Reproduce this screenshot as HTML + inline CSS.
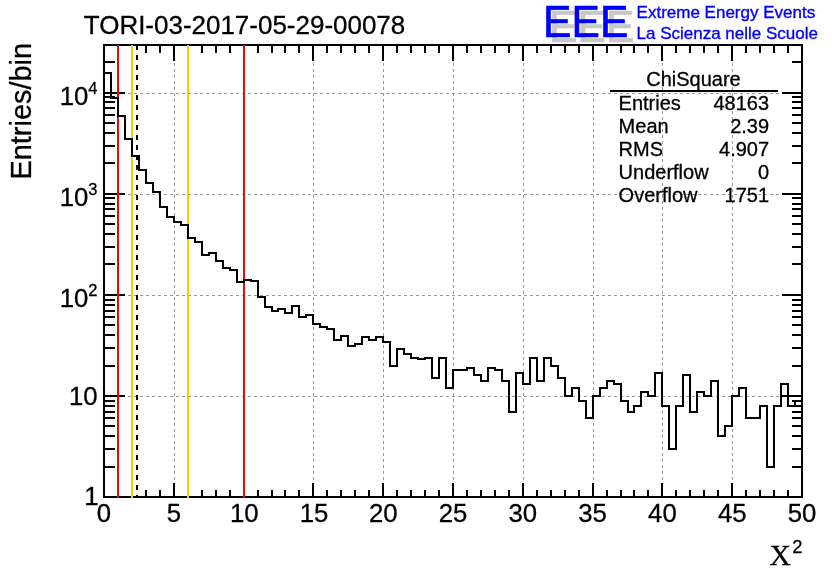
<!DOCTYPE html>
<html><head><meta charset="utf-8"><title>ChiSquare</title>
<style>html,body{margin:0;padding:0;background:#fff}svg{display:block;will-change:transform}text{font-family:"Liberation Sans",sans-serif;fill:#000;stroke:#000;stroke-width:.3}.ser{font-family:"Liberation Serif",serif}.b{fill:#00f}.s{stroke:#00f;stroke-width:.35}</style></head><body>
<svg width="836" height="572" viewBox="0 0 836 572">
<rect width="836" height="572" fill="#fff"/>
<path d="M174.5 45V497M244.5 45V497M313.5 45V497M383.5 45V497M453.5 45V497M523.5 45V497M593.5 45V497M662.5 45V497M732.5 45V497" stroke="#999" stroke-width="1" stroke-dasharray="3 3" fill="none" shape-rendering="crispEdges"/>
<path d="M104 396.5H802M104 295.5H802M104 194.5H802M104 93.5H802" stroke="#999" stroke-width="1" stroke-dasharray="3 3" fill="none" shape-rendering="crispEdges"/>
<path d="M104 497v-14M104 45v16M118 497v-7M118 45v8M132 497v-7M132 45v8M146 497v-7M146 45v8M160 497v-7M160 45v8M174 497v-14M174 45v16M188 497v-7M188 45v8M202 497v-7M202 45v8M216 497v-7M216 45v8M230 497v-7M230 45v8M244 497v-14M244 45v16M258 497v-7M258 45v8M272 497v-7M272 45v8M285 497v-7M285 45v8M299 497v-7M299 45v8M313 497v-14M313 45v16M327 497v-7M327 45v8M341 497v-7M341 45v8M355 497v-7M355 45v8M369 497v-7M369 45v8M383 497v-14M383 45v16M397 497v-7M397 45v8M411 497v-7M411 45v8M425 497v-7M425 45v8M439 497v-7M439 45v8M453 497v-14M453 45v16M467 497v-7M467 45v8M481 497v-7M481 45v8M495 497v-7M495 45v8M509 497v-7M509 45v8M523 497v-14M523 45v16M537 497v-7M537 45v8M551 497v-7M551 45v8M565 497v-7M565 45v8M579 497v-7M579 45v8M593 497v-14M593 45v16M607 497v-7M607 45v8M621 497v-7M621 45v8M634 497v-7M634 45v8M648 497v-7M648 45v8M662 497v-14M662 45v16M676 497v-7M676 45v8M690 497v-7M690 45v8M704 497v-7M704 45v8M718 497v-7M718 45v8M732 497v-14M732 45v16M746 497v-7M746 45v8M760 497v-7M760 45v8M774 497v-7M774 45v8M788 497v-7M788 45v8M802 497v-14M802 45v16M104 497h21M802 497h-20M104 467h11M802 467h-10M104 449h11M802 449h-10M104 436h11M802 436h-10M104 426h11M802 426h-10M104 418h11M802 418h-10M104 412h11M802 412h-10M104 406h11M802 406h-10M104 401h11M802 401h-10M104 396h21M802 396h-20M104 366h11M802 366h-10M104 348h11M802 348h-10M104 335h11M802 335h-10M104 325h11M802 325h-10M104 317h11M802 317h-10M104 311h11M802 311h-10M104 305h11M802 305h-10M104 300h11M802 300h-10M104 295h21M802 295h-20M104 264h11M802 264h-10M104 247h11M802 247h-10M104 234h11M802 234h-10M104 224h11M802 224h-10M104 216h11M802 216h-10M104 209h11M802 209h-10M104 204h11M802 204h-10M104 198h11M802 198h-10M104 194h21M802 194h-20M104 163h11M802 163h-10M104 146h11M802 146h-10M104 133h11M802 133h-10M104 123h11M802 123h-10M104 115h11M802 115h-10M104 108h11M802 108h-10M104 102h11M802 102h-10M104 97h11M802 97h-10M104 93h21M802 93h-20M104 62h11M802 62h-10" stroke="#000" stroke-width="2" fill="none" shape-rendering="crispEdges"/>
<rect x="104" y="45" width="698" height="452" fill="none" stroke="#000" stroke-width="2" shape-rendering="crispEdges"/>
<path d="M118 45V498" stroke="#f00" stroke-width="2" fill="none" shape-rendering="crispEdges"/>
<path d="M132 45V498" stroke="#fc0" stroke-width="2" fill="none" shape-rendering="crispEdges"/>
<path d="M188 45V498" stroke="#fc0" stroke-width="2" fill="none" shape-rendering="crispEdges"/>
<path d="M244 45V498" stroke="#f00" stroke-width="2" fill="none" shape-rendering="crispEdges"/>
<path d="M137 45V498" stroke="#000" stroke-width="2" stroke-dasharray="5 5" fill="none" shape-rendering="crispEdges"/>
<path d="M104 497V73H111V98H118V116H125V139H132V156H139V170H146V183H153V192H160V207H167V217H174V222H181V225H188V238H195V242H202V255H209V253H216V261H223V268H230V270H237V282H244V280H251V281H258V297H265V307H272V311H278V309H285V313H292V306H299V317H306V315H313V324H320V327H327V329H334V340H341V336H348V346H355V344H362V337H369V340H376V337H383V342H390V366H397V349H404V354H411V358H418V359H425V358H432V378H439V358H446V388H453V370H460V370H467V368H474V375H481V381H488V368H495V370H502V381H509V412H516V373H523V384H530V358H537V381H544V358H551V366H558V378H565V396H572V388H579V401H586V418H593V396H600V388H607V381H614V384H621V401H628V412H634V406H641V392H648V396H655V373H662V406H669V449H676V406H683V375H690V412H697V392H704V396H711V381H718V436H725V426H732V396H739V388H746V418H753V418H760V406H767V467H774V406H781V384H788V406H795V401H802V497" stroke="#000" stroke-width="2" fill="none" stroke-linejoin="miter" shape-rendering="crispEdges"/>
<text x="83.8" y="33.9" font-size="25.97">TORI-03-2017-05-29-00078</text>
<text x="104.0" y="522" font-size="25.74" text-anchor="middle">0</text>
<text x="173.8" y="522" font-size="25.74" text-anchor="middle">5</text>
<text x="244.2" y="522" font-size="25.74" text-anchor="middle">10</text>
<text x="314.0" y="522" font-size="25.74" text-anchor="middle">15</text>
<text x="383.2" y="522" font-size="25.74" text-anchor="middle">20</text>
<text x="453.0" y="522" font-size="25.74" text-anchor="middle">25</text>
<text x="522.8" y="522" font-size="25.74" text-anchor="middle">30</text>
<text x="592.6" y="522" font-size="25.74" text-anchor="middle">35</text>
<text x="662.4" y="522" font-size="25.74" text-anchor="middle">40</text>
<text x="732.2" y="522" font-size="25.74" text-anchor="middle">45</text>
<text x="802.0" y="522" font-size="25.74" text-anchor="middle">50</text>
<text x="98.6" y="505.2" font-size="25.74" text-anchor="end">1</text>
<text x="97.5" y="404.9" font-size="25.74" text-anchor="end">10</text>
<text x="97.5" y="306.8" font-size="25.74" text-anchor="end">10<tspan font-size="16.5" dy="-11.3">2</tspan></text>
<text x="97.5" y="205.8" font-size="25.74" text-anchor="end">10<tspan font-size="16.5" dy="-11.3">3</tspan></text>
<text x="97.5" y="104.8" font-size="25.74" text-anchor="end">10<tspan font-size="16.5" dy="-11.3">4</tspan></text>
<text transform="translate(30.8 43) rotate(-90)" font-size="28.9" text-anchor="end">Entries/bin</text>
<text class="ser" x="769.5" y="565" font-size="29.5">X</text>
<text x="802.6" y="552.6" font-size="18.4" text-anchor="end">2</text>
<path d="M610 91H778" stroke="#000" stroke-width="2" shape-rendering="crispEdges"/>
<text x="693.5" y="86" font-size="20" text-anchor="middle">ChiSquare</text>
<text x="618.6" y="109.5" font-size="20">Entries</text>
<text x="769.1" y="109.5" font-size="20" text-anchor="end">48163</text>
<text x="618.6" y="132.5" font-size="20">Mean</text>
<text x="769.1" y="132.5" font-size="20" text-anchor="end">2.39</text>
<text x="618.6" y="155.5" font-size="20">RMS</text>
<text x="769.1" y="155.5" font-size="20" text-anchor="end">4.907</text>
<text x="618.6" y="178.5" font-size="20">Underflow</text>
<text x="769.1" y="178.5" font-size="20" text-anchor="end">0</text>
<text x="618.6" y="201.5" font-size="20">Overflow</text>
<text x="769.1" y="201.5" font-size="20" text-anchor="end">1751</text>
<text transform="translate(548.9 41.6) scale(.95 1)" x="0 30 60" font-size="44.8" style="fill:#c8c8c8;stroke:#c8c8c8;stroke-width:.7">EEE</text>
<text transform="translate(542.9 36.9) scale(.95 1)" x="0 30 60" font-size="44.8" style="fill:#00f;stroke:#00f;stroke-width:.7">EEE</text>
<text x="636.6" y="17.5" font-size="17" class="b s">Extreme Energy Events</text>
<text x="636.5" y="38.8" font-size="17" class="b s">La Scienza nelle Scuole</text>
</svg></body></html>
